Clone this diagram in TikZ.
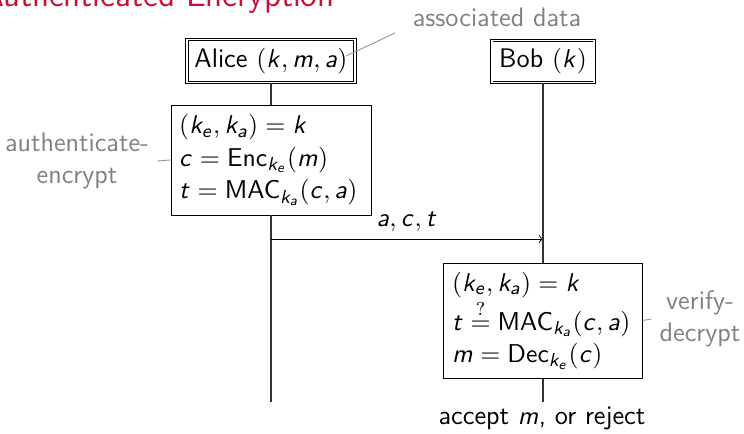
\documentclass[tikz,border=0pt]{standalone}
\usepackage{amsmath}
\DeclareSymbolFont{sfit}{OT1}{cmss}{m}{sl}
\DeclareSymbolFont{sfup}{OT1}{cmss}{m}{n}
\DeclareSymbolFontAlphabet{\mathsfup}{sfup}
\DeclareMathSymbol{a}{\mathalpha}{sfit}{`a}
\DeclareMathSymbol{c}{\mathalpha}{sfit}{`c}
\DeclareMathSymbol{e}{\mathalpha}{sfit}{`e}
\DeclareMathSymbol{k}{\mathalpha}{sfit}{`k}
\DeclareMathSymbol{m}{\mathalpha}{sfit}{`m}
\DeclareMathSymbol{t}{\mathalpha}{sfit}{`t}
\renewcommand{\familydefault}{\sfdefault}
\definecolor{titlered}{RGB}{200,16,56}
\definecolor{notegray}{RGB}{128,128,128}
\tikzset{
  party/.style={draw, double, double distance=0.6pt, inner sep=2pt},
  comp/.style={draw, inner sep=3.5pt, align=left},
  note/.style={text=notegray},
  noteline/.style={draw=notegray!80, line width=0.4pt},
  life/.style={draw=black!80, line width=0.45pt},
}
\begin{document}
\begin{tikzpicture}[x=0.425pt,y=-0.425pt,font=\fontsize{11.4}{13.8}\selectfont]
\useasboundingbox (0,0) rectangle (744,433);
\node[anchor=base east, text=titlered, font=\fontsize{14.4}{17}\selectfont, inner sep=0pt] (title) at (335,6.5) {Authenticated Encryption};
\node[party, minimum width=71.4pt, minimum height=18.3pt] (alice) at (271,61) {Alice $(k,m,a)$};
\node[party, minimum width=43.5pt, minimum height=17.8pt] (bob) at (543,61.5) {Bob $(k)$};
\node[note] (ad) at (497,17) {associated data};
\coordinate (adtip) at (346,56);
\coordinate (adend) at (395,33);
\draw[noteline] (adtip) -- (adend);
\node[comp, text width=78pt, minimum height=46.75pt] (acomp) at (271,160)
  {$(k_e,k_a)=k$\\ $c=\mathsfup{Enc}_{k_e}(m)$\\ $t=\mathsfup{MAC}_{k_a}(c,a)$};
\node[note, align=center] (aelbl) at (77,161) {authenticate-\\encrypt};
\draw[noteline] (acomp.west) -- (aelbl.east);
\coordinate (m1) at (271,239);
\coordinate (m2) at (543,239);
\draw[life] (alice) -- (acomp);
\draw[life] (acomp) -- (271,402) coordinate (aend);
\draw[->, black] (m1) -- node[above, pos=0.5, inner sep=3pt] (msg) {$a,c,t$} (m2);
\node[comp, text width=77.2pt, minimum height=48.9pt] (bcomp) at (543,320.5)
  {$(k_e,k_a)=k$\\ $t\stackrel{\mathsfup{?}}{=}\mathsfup{MAC}_{k_a}(c,a)$\\ $m=\mathsfup{Dec}_{k_e}(c)$};
\node[note, align=center] (vdlbl) at (700,319) {verify-\\decrypt};
\draw[noteline] (bcomp.east) -- (vdlbl.west);
\draw[life] (bob) -- (bcomp);
\draw[life] (bcomp) -- (543,402) coordinate (bend);
\node (accept) at (542,418) {accept $m$, or reject};
\end{tikzpicture}
\end{document}
